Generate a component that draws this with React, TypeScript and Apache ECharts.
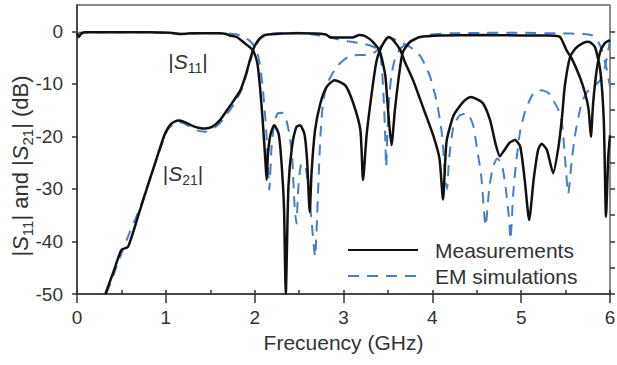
import React, { useEffect, useRef } from 'react';
import * as echarts from 'echarts';

const FONT = '"Liberation Sans", Arial, Helvetica, sans-serif';
const TEXT = '#333333';
const AXIS = '#333333';
const BLUE = '#4a7ebf';

const xMajorTicks = [0, 1, 2, 3, 4, 5, 6];
const xMinorTicks = [0, 0.5, 1, 1.5, 2, 2.5, 3, 3.5, 4, 4.5, 5, 5.5, 6];
const yMajorTicks = [-50, -40, -30, -20, -10, 0];
const yMinorTicks = [-50, -45, -40, -35, -30, -25, -20, -15, -10, -5, 0];

// Measured |S11| (dB) vs frequency (GHz)
const s11Meas: [number, number][] = [
  [0, -0.3], [0.02, -1.1], [0.05, -0.4], [0.1, -0.2], [0.4, -0.2], [0.8, -0.2], [1.05, -0.3],
  [1.15, -0.5], [1.3, -0.4], [1.6, -0.4], [1.68, -0.5], [1.72, -0.8], [1.8, -1.1], [1.89, -2.3],
  [1.98, -3.6], [2.03, -6.1], [2.06, -10.6], [2.09, -16.9], [2.12, -24.5], [2.135, -28.3],
  [2.15, -23.3], [2.18, -19.5], [2.22, -17.9], [2.27, -19.5], [2.3, -24.5], [2.33, -33.4],
  [2.35, -50], [2.38, -29.6], [2.42, -22], [2.47, -18.2], [2.51, -17.9], [2.56, -19.5],
  [2.59, -24.5], [2.62, -34.4], [2.64, -27], [2.68, -18.8], [2.74, -13.7], [2.81, -10.6],
  [2.9, -9.3], [3.02, -10.3], [3.11, -13.7], [3.19, -18.8], [3.22, -28.3], [3.26, -19.8],
  [3.32, -11.5], [3.37, -5.8], [3.41, -3.6], [3.47, -1.7], [3.51, -1.1], [3.56, -1.7],
  [3.64, -3.6], [3.69, -5.8], [3.79, -9.6], [3.9, -14.7], [4.01, -19.8], [4.08, -24.2],
  [4.12, -32], [4.16, -21], [4.24, -16], [4.35, -13.4], [4.43, -12.5], [4.5, -12.9],
  [4.57, -13.7], [4.65, -16.9], [4.71, -21.3], [4.76, -23.8], [4.8, -22.9], [4.87, -21.2],
  [4.93, -20.7], [4.99, -22], [5.04, -28.3], [5.09, -35.9], [5.14, -28.3], [5.19, -22.6],
  [5.23, -21.4], [5.29, -22.6], [5.36, -27], [5.42, -22], [5.46, -16.3], [5.49, -10.6],
  [5.55, -4.9], [5.61, -3.3], [5.7, -2.2], [5.76, -2.0], [5.83, -3.0], [5.89, -7.4],
  [5.93, -16.9], [5.955, -35.3], [5.98, -24], [6.0, -19.8],
];

// Measured |S21| (dB)
const s21Meas: [number, number][] = [
  [0.32, -50], [0.41, -45.8], [0.5, -41.6], [0.575, -41.0], [0.7, -34.5], [0.8, -29.2],
  [0.9, -24], [0.97, -20.4], [1.01, -18.8], [1.06, -17.6], [1.1, -17.2], [1.14, -17.0],
  [1.2, -17.2], [1.3, -18.0], [1.38, -18.4], [1.44, -18.5], [1.52, -18.2], [1.61, -16.9],
  [1.69, -15.0], [1.76, -13.3], [1.84, -11.2], [1.9, -8.3], [1.95, -5.3], [1.99, -3.2],
  [2.04, -1.7], [2.09, -0.9], [2.15, -0.6], [2.5, -0.4], [2.8, -0.6], [2.86, -1.2],
  [3.1, -1.2], [3.18, -0.7], [3.24, -0.9], [3.33, -2.0], [3.41, -3.9], [3.47, -8.4],
  [3.5, -14.7], [3.54, -21.7], [3.58, -14.7], [3.64, -6.5], [3.67, -3.9], [3.75, -2.0],
  [3.86, -1.1], [4.1, -0.8], [4.6, -0.7], [5.0, -0.8], [5.3, -0.8], [5.43, -1.0],
  [5.46, -1.7], [5.51, -3.6], [5.57, -5.2], [5.66, -8.7], [5.72, -11.8], [5.76, -15],
  [5.785, -20.1], [5.81, -13.7], [5.85, -7.4], [5.89, -3.9], [5.94, -2.3], [6.0, -1.7],
];

// EM-simulated |S11| (dB)
const s11Sim: [number, number][] = [
  [0, -0.3], [0.3, -0.2], [0.8, -0.2], [1.05, -0.3], [1.2, -0.5], [1.4, -0.4], [1.7, -0.4],
  [1.8, -0.6], [1.88, -1.1], [1.95, -1.9], [2.01, -3.2], [2.05, -5.5], [2.09, -10.6],
  [2.13, -18.8], [2.15, -26], [2.165, -30.2], [2.19, -22], [2.22, -17.5], [2.26, -15.6],
  [2.31, -15.5], [2.35, -16.5], [2.39, -19.5], [2.42, -23.3], [2.45, -33.4], [2.47, -36.6],
  [2.49, -30], [2.52, -25.5], [2.56, -25.2], [2.6, -29], [2.64, -36], [2.68, -42.9],
  [2.71, -32], [2.74, -20], [2.77, -13.5], [2.81, -10.3], [2.86, -8.5], [2.93, -6.6],
  [3.0, -5.5], [3.07, -4.7], [3.18, -4.5], [3.27, -4.5], [3.35, -4.0], [3.41, -3.1],
  [3.44, -2.0], [3.47, -1.4], [3.52, -1.3], [3.6, -1.7], [3.75, -3.0], [3.86, -4.6],
  [3.92, -6.5], [3.97, -8.4], [4.05, -13.4], [4.11, -19.8], [4.14, -26.7], [4.165, -30],
  [4.19, -24], [4.24, -17.9], [4.31, -16], [4.39, -15.6], [4.46, -17.9], [4.5, -22],
  [4.55, -27.5], [4.6, -37], [4.64, -30], [4.68, -26], [4.73, -24.2], [4.78, -25.2],
  [4.82, -29], [4.86, -35], [4.88, -39.6], [4.91, -31], [4.94, -25.5], [4.99, -18.8],
  [5.04, -15.5], [5.08, -13.7], [5.13, -12], [5.19, -11.2], [5.25, -11.3], [5.31, -11.8],
  [5.36, -13.1], [5.42, -15], [5.46, -17.5], [5.49, -23.3], [5.53, -30.9], [5.57, -24.5],
  [5.61, -19.4], [5.68, -13.7], [5.74, -11.6], [5.81, -10.6], [5.89, -9.3], [5.94, -7],
  [5.97, -4.5], [6.0, -1.8],
];

// EM-simulated |S21| (dB)
const s21Sim: [number, number][] = [
  [0.33, -50], [0.42, -46], [0.5, -42.3], [0.6, -38], [0.7, -34], [0.8, -29.2], [0.9, -24.2],
  [0.97, -20.8], [1.02, -18.8], [1.08, -17.7], [1.14, -17.3], [1.2, -17.5], [1.3, -18.4],
  [1.38, -19], [1.45, -19.1], [1.53, -18.6], [1.62, -17.3], [1.7, -15.5], [1.78, -13.5],
  [1.86, -10.8], [1.92, -7.5], [1.97, -4.6], [2.01, -2.8], [2.06, -1.5], [2.12, -0.8],
  [2.2, -0.4], [2.5, -0.3], [2.65, -0.6], [2.8, -1.0], [2.9, -1.4], [3.05, -1.9], [3.2, -2.3],
  [3.3, -2.7], [3.37, -3.3], [3.42, -5], [3.45, -12], [3.47, -20], [3.48, -25.8], [3.5, -17],
  [3.52, -11.5], [3.54, -8.4], [3.58, -5.2], [3.64, -3.3], [3.75, -2.0], [3.85, -1.2],
  [3.95, -0.7], [4.2, -0.4], [4.6, -0.3], [5.0, -0.3], [5.4, -0.4], [5.7, -0.5], [5.8, -0.8],
  [5.86, -1.8], [5.91, -3.6], [5.96, -7], [6.0, -10.5],
];

const richLabel = {
  i: { fontSize: 21, fontStyle: 'italic', lineHeight: 28, fontFamily: FONT, color: TEXT },
  sub: { fontSize: 14, lineHeight: 14, verticalAlign: 'bottom', fontFamily: FONT, color: TEXT },
};
const richTitle = {
  i: { fontSize: 22, fontStyle: 'italic', lineHeight: 29, fontFamily: FONT, color: TEXT },
  sub: { fontSize: 15, lineHeight: 15, verticalAlign: 'bottom', fontFamily: FONT, color: TEXT },
};

export default function App() {
  const ref = useRef<HTMLDivElement>(null);
  useEffect(() => {
    if (!ref.current) return;
    const chart = echarts.init(ref.current, null, { renderer: 'svg' });
    const measLine = { color: '#111111', width: 2.5, type: 'solid' as const };
    const simLine = { color: BLUE, width: 2, type: [11, 8] as any };
    chart.setOption({
      animation: false,
      backgroundColor: '#ffffff',
      textStyle: { fontFamily: FONT },
      grid: {
        left: 77, top: 5, width: 533, height: 289,
        outerBoundsMode: 'none', containLabel: false,
        show: true, borderColor: '#666666', borderWidth: 1.5, backgroundColor: 'transparent',
      },
      legend: {
        data: ['Measurements', 'EM simulations'],
        orient: 'vertical',
        left: 342, top: 234,
        itemWidth: 70, itemHeight: 14, itemGap: 4,
        selectedMode: false,
        itemStyle: { opacity: 0 },
        textStyle: { fontSize: 21, color: TEXT, fontFamily: FONT, lineHeight: 22, padding: [0, 0, 0, 12] },
      },
      xAxis: [
        {
          type: 'value', min: 0, max: 6, interval: 1, position: 'bottom',
          axisLine: { show: true, onZero: false, lineStyle: { color: AXIS, width: 1.5 } },
          axisTick: { show: true, inside: false, length: 9, customValues: xMajorTicks, lineStyle: { color: AXIS, width: 1.5 } },
          axisLabel: { show: true, customValues: xMajorTicks, fontSize: 19, color: TEXT, margin: 14, fontFamily: FONT },
          splitLine: { show: false },
          name: 'Frecuency (GHz)', nameLocation: 'middle', nameGap: 38,
          nameTextStyle: { fontSize: 21, color: TEXT, fontFamily: FONT },
        },
        {
          // inner ticks drawn on the bottom edge (top axis shifted down by the grid height)
          type: 'value', min: 0, max: 6, interval: 0.5, position: 'top', offset: -289,
          axisLine: { show: false },
          axisTick: { show: true, inside: false, length: 4, customValues: xMinorTicks, lineStyle: { color: AXIS, width: 1.5 } },
          axisLabel: { show: false },
          splitLine: { show: false },
        },
      ],
      yAxis: [
        {
          type: 'value', min: -50, max: 5, interval: 10, position: 'left',
          axisLine: { show: true, onZero: false, lineStyle: { color: AXIS, width: 1.5 } },
          axisTick: { show: true, inside: false, length: 5, customValues: yMajorTicks, lineStyle: { color: AXIS, width: 1.5 } },
          axisLabel: {
            show: true, customValues: yMajorTicks, fontSize: 19, color: TEXT, margin: 14, fontFamily: FONT,
            formatter: (v: number) => (v > 0 ? '' : String(v)),
          },
          splitLine: { show: false },
        },
        {
          // inner ticks drawn on the left edge (right axis shifted left by the grid width)
          type: 'value', min: -50, max: 5, interval: 5, position: 'right', offset: -533,
          axisLine: { show: false },
          axisTick: { show: true, inside: false, length: 5, customValues: yMinorTicks, lineStyle: { color: AXIS, width: 1.5 } },
          axisLabel: { show: false },
          splitLine: { show: false },
        },
      ],
      graphic: [
        {
          type: 'text', x: 20, y: 166, rotation: Math.PI / 2, z: 10,
          style: {
            text: '|{i|S}{sub|11}| and |{i|S}{sub|21}| (dB)', align: 'center', verticalAlign: 'middle',
            fontSize: 22, fontFamily: FONT, fill: TEXT, lineHeight: 29, rich: richTitle,
          },
        },
        {
          type: 'text', x: 188, y: 61, z: 10,
          style: {
            text: '|{i|S}{sub|11}|', align: 'center', verticalAlign: 'middle',
            fontSize: 21, fontFamily: FONT, fill: TEXT, lineHeight: 28, rich: richLabel,
          },
        },
        {
          type: 'text', x: 183, y: 173, z: 10,
          style: {
            text: '|{i|S}{sub|21}|', align: 'center', verticalAlign: 'middle',
            fontSize: 21, fontFamily: FONT, fill: TEXT, lineHeight: 28, rich: richLabel,
          },
        },
      ],
      series: [
        { name: 'EM simulations', type: 'line', data: s21Sim, showSymbol: false, symbol: 'none', smooth: 0.2, lineStyle: simLine, itemStyle: { color: BLUE }, z: 2 },
        { name: 'EM simulations', type: 'line', data: s11Sim, showSymbol: false, symbol: 'none', smooth: 0.2, lineStyle: simLine, itemStyle: { color: BLUE }, z: 2 },
        { name: 'Measurements', type: 'line', data: s21Meas, showSymbol: false, symbol: 'none', smooth: 0.2, lineStyle: measLine, itemStyle: { color: '#111111' }, z: 3 },
        { name: 'Measurements', type: 'line', data: s11Meas, showSymbol: false, symbol: 'none', smooth: 0.2, lineStyle: measLine, itemStyle: { color: '#111111' }, z: 3 },
      ],
    });
    return () => chart.dispose();
  }, []);
  return (
    <div
      ref={ref}
      style={{ position: 'absolute', left: 0, top: 0, width: 617, height: 365, background: '#ffffff' }}
    />
  );
}
